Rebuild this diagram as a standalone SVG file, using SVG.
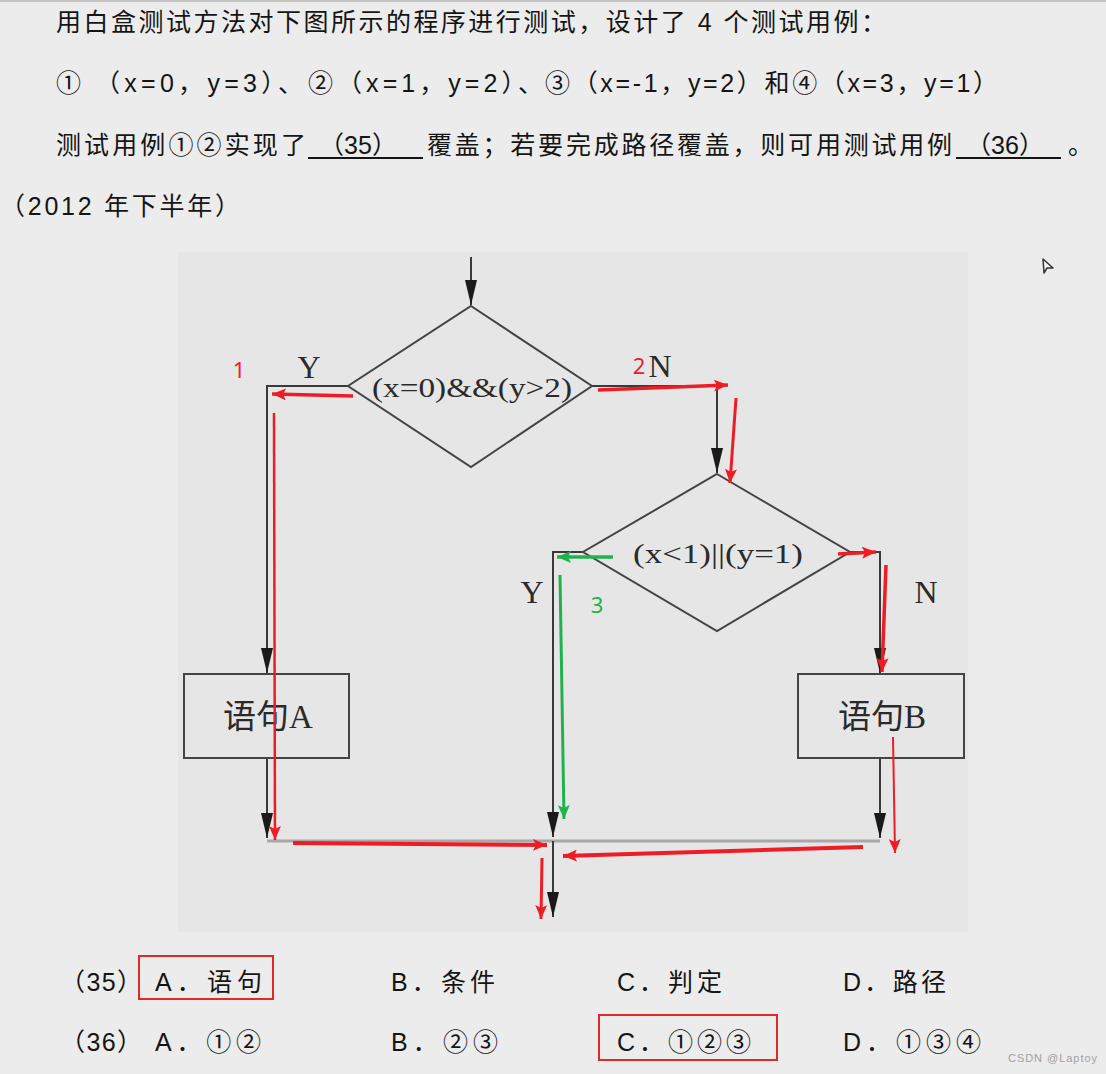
<svg xmlns="http://www.w3.org/2000/svg" width="1106" height="1074" viewBox="0 0 1106 1074">
<style>
.q{font-family:"Liberation Sans","Noto Sans CJK SC",sans-serif;font-size:25px;fill:#151515}
.fl{fill:none;stroke:#3a3a3a;stroke-width:2}
.shape{fill:none;stroke:#444;stroke-width:2}
.ser{font-family:"Liberation Serif","Noto Sans CJK SC",serif;fill:#2a2a2a}
.red{stroke:#ee1c25;fill:none}
.grn{stroke:#22b24c;fill:none}
.an{font-family:"Noto Sans","Liberation Sans",sans-serif;font-size:22px}
</style>
<defs>
<marker id="ah" viewBox="0 0 25 12" refX="25" refY="6" markerWidth="25" markerHeight="12" markerUnits="userSpaceOnUse" orient="auto"><path d="M0,0 L25,6 L0,12 z" fill="#1a1a1a"/></marker>
<marker id="ar" viewBox="0 0 14 12" refX="14" refY="6" markerWidth="14" markerHeight="12" markerUnits="userSpaceOnUse" orient="auto"><path d="M0,0 L14,6 L0,12 L3,6 z" fill="#ee1c25"/></marker>
<marker id="ag" viewBox="0 0 14 12" refX="14" refY="6" markerWidth="14" markerHeight="12" markerUnits="userSpaceOnUse" orient="auto"><path d="M0,0 L14,6 L0,12 L3,6 z" fill="#22b24c"/></marker>
</defs>
<rect x="0" y="0" width="1106" height="1074" fill="#ececec"/>
<rect x="0" y="0" width="1106" height="2" fill="#c4c4c4"/>
<g id="question">
<text class="q" x="56" y="31" textLength="830" lengthAdjust="spacing">用白盒测试方法对下图所示的程序进行测试，设计了 4 个测试用例：</text>
<text class="q" x="56" y="92">①</text>
<text class="q" x="95" y="92" textLength="208" lengthAdjust="spacing">（x=0，y=3）、</text>
<text class="q" x="308" y="92" textLength="235" lengthAdjust="spacing">②（x=1，y=2）、</text>
<text class="q" x="545" y="92" textLength="453" lengthAdjust="spacing">③（x=-1，y=2）和④（x=3，y=1）</text>
<text class="q" x="56" y="154" textLength="250" lengthAdjust="spacing">测试用例①②实现了</text>
<text class="q" x="358" y="154" text-anchor="middle">（35）</text>
<line x1="308" y1="158" x2="423" y2="158" stroke="#151515" stroke-width="2"/>
<text class="q" x="427" y="154" textLength="525" lengthAdjust="spacing">覆盖；若要完成路径覆盖，则可用测试用例</text>
<text class="q" x="1005" y="154" text-anchor="middle">（36）</text>
<line x1="956" y1="158" x2="1061" y2="158" stroke="#151515" stroke-width="2"/>
<text class="q" x="1068" y="154">。</text>
<text class="q" x="0" y="215" textLength="240" lengthAdjust="spacing">（2012 年下半年）</text>
</g>
<rect id="panel" x="178" y="252" width="790" height="680" fill="#e6e6e6"/>
<g id="connectors">
<line class="fl" x1="471" y1="257" x2="471" y2="305" marker-end="url(#ah)"/>
<polyline class="fl" points="348,386 267,386 267,673" marker-end="url(#ah)"/>
<polyline class="fl" points="592,386 717,386 717,473" marker-end="url(#ah)"/>
<polyline class="fl" points="583,552 553,552 553,837" marker-end="url(#ah)"/>
<polyline class="fl" points="850,552 880,552 880,673" marker-end="url(#ah)"/>
<line class="fl" x1="267" y1="758" x2="267" y2="838" marker-end="url(#ah)"/>
<line class="fl" x1="880" y1="758" x2="880" y2="838" marker-end="url(#ah)"/>
<line x1="267" y1="841" x2="880" y2="841" stroke="#a8a8a8" stroke-width="3"/>
<line class="fl" x1="553" y1="841" x2="553" y2="917" marker-end="url(#ah)"/>
<text class="ser" x="309" y="378" font-size="32" text-anchor="middle">Y</text>
<text class="ser" x="660" y="377" font-size="32" text-anchor="middle">N</text>
<text class="ser" x="532" y="603" font-size="32" text-anchor="middle">Y</text>
<text class="ser" x="926" y="603" font-size="32" text-anchor="middle">N</text>
</g>
<g id="decision1">
<polygon class="shape" points="471,306 592,386 471,467 348,386"/>
<text class="ser" x="472" y="397" font-size="28" text-anchor="middle" textLength="200" lengthAdjust="spacingAndGlyphs">(x=0)&amp;&amp;(y&gt;2)</text>
</g>
<g id="decision2">
<polygon class="shape" points="717,474 850,552 717,631 583,552"/>
<text class="ser" x="718" y="563" font-size="28" text-anchor="middle" textLength="170" lengthAdjust="spacingAndGlyphs">(x&lt;1)||(y=1)</text>
</g>
<g id="stmtA">
<rect class="shape" x="184" y="674" width="165" height="84"/>
<text class="ser" x="268" y="728" font-size="33" text-anchor="middle">语句A</text>
</g>
<g id="stmtB">
<rect class="shape" x="798" y="674" width="166" height="84"/>
<text class="ser" x="882" y="728" font-size="33" text-anchor="middle">语句B</text>
</g>
<g id="annotations">
<text class="an" x="239" y="378" fill="#ee1c25" text-anchor="middle">1</text>
<text class="an" x="639" y="374" fill="#ee1c25" text-anchor="middle">2</text>
<text class="an" x="597" y="613" fill="#22b24c" text-anchor="middle">3</text>
<line class="red" stroke-width="3.5" x1="353" y1="396" x2="272" y2="394" marker-end="url(#ar)"/>
<line class="red" stroke-width="2.5" x1="274" y1="413" x2="275" y2="840" marker-end="url(#ar)"/>
<line class="red" stroke-width="4" x1="293" y1="843" x2="547" y2="845" marker-end="url(#ar)"/>
<line class="red" stroke-width="3.5" x1="598" y1="390" x2="728" y2="385" marker-end="url(#ar)"/>
<line class="red" stroke-width="3" x1="736" y1="398" x2="730" y2="483" marker-end="url(#ar)"/>
<line class="red" stroke-width="3.5" x1="838" y1="554" x2="876" y2="552" marker-end="url(#ar)"/>
<line class="red" stroke-width="3.5" x1="886" y1="565" x2="882" y2="672" marker-end="url(#ar)"/>
<line class="red" stroke-width="2" x1="893" y1="737" x2="895" y2="853" marker-end="url(#ar)"/>
<line class="red" stroke-width="4" x1="863" y1="847" x2="563" y2="856" marker-end="url(#ar)"/>
<line class="red" stroke-width="3" x1="542" y1="858" x2="541" y2="919" marker-end="url(#ar)"/>
<line class="grn" stroke-width="3.5" x1="613" y1="557" x2="557" y2="557" marker-end="url(#ag)"/>
<line class="grn" stroke-width="3" x1="560" y1="575" x2="564" y2="819" marker-end="url(#ag)"/>
</g>
<g id="cursor">
<polygon points="1043,259 1053,268 1047,268 1044,273" fill="#f4f4f4" stroke="#333" stroke-width="1.5" stroke-linejoin="round"/>
</g>
<g id="options">
<text class="q" x="60" y="991" textLength="82" lengthAdjust="spacing">（35）</text>
<text class="q" x="155" y="991" textLength="107" lengthAdjust="spacing">A．语句</text>
<text class="q" x="391" y="991" textLength="104" lengthAdjust="spacing">B．条件</text>
<text class="q" x="617" y="991" textLength="105" lengthAdjust="spacing">C．判定</text>
<text class="q" x="843" y="991" textLength="103" lengthAdjust="spacing">D．路径</text>
<text class="q" x="60" y="1051" textLength="82" lengthAdjust="spacing">（36）</text>
<text class="q" x="155" y="1051" textLength="106" lengthAdjust="spacing">A．①②</text>
<text class="q" x="391" y="1051" textLength="107" lengthAdjust="spacing">B．②③</text>
<text class="q" x="617" y="1051" textLength="134" lengthAdjust="spacing">C．①②③</text>
<text class="q" x="843" y="1051" textLength="138" lengthAdjust="spacing">D．①③④</text>
<rect x="139" y="956" width="134" height="43" fill="none" stroke="#e02a2a" stroke-width="2"/>
<rect x="599" y="1015" width="178" height="45" fill="none" stroke="#e02a2a" stroke-width="2"/>
</g>
<text x="1008" y="1062" font-family="Liberation Sans, sans-serif" font-size="11" fill="#a0a0a0" textLength="89" lengthAdjust="spacing">CSDN @Laptoy</text>
</svg>
